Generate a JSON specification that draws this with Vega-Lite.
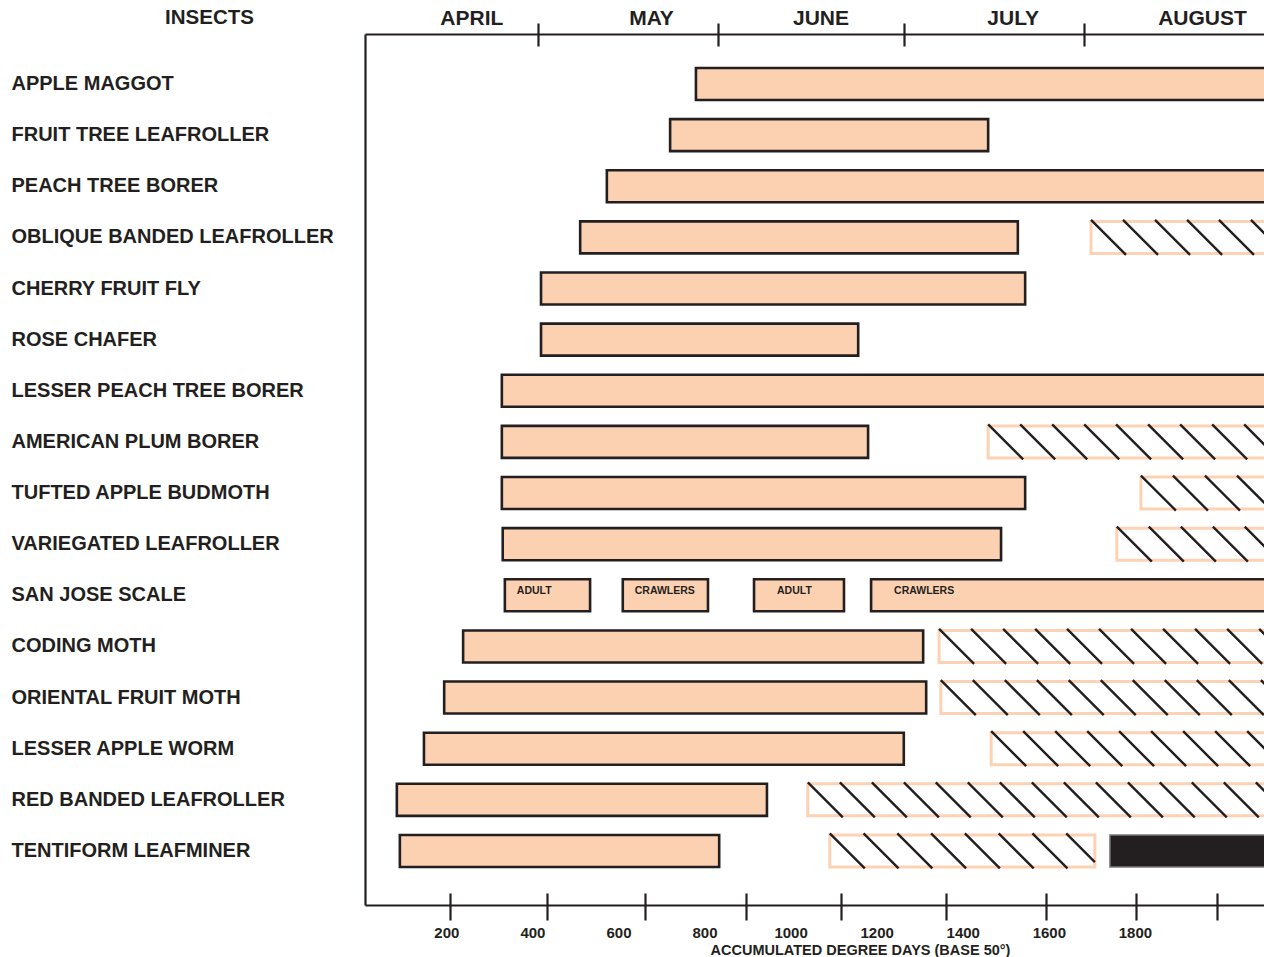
{
  "$schema": "https://vega.github.io/schema/vega-lite/v6.json",
  "autosize": {"type": "none"},
  "padding": {"left": 365, "top": 34, "right": 0, "bottom": 52},
  "width": 899,
  "height": 871,
  "background": "white",
  "config": {
    "view": {"stroke": null},
    "axis": {
      "grid": false,
      "labelFont": "Liberation Sans",
      "titleFont": "Liberation Sans",
      "labelColor": "#231f20",
      "titleColor": "#231f20",
      "domainColor": "#231f20",
      "tickColor": "#231f20",
      "domainWidth": 2.2,
      "tickWidth": 2.2
    }
  },
  "data": {
    "values": [
      {"insect": "APPLE MAGGOT", "start": 780, "end": 2200, "stage": "solid"},
      {"insect": "FRUIT TREE LEAFROLLER", "start": 720, "end": 1459, "stage": "solid"},
      {"insect": "PEACH TREE BORER", "start": 573, "end": 2200, "stage": "solid"},
      {"insect": "OBLIQUE BANDED LEAFROLLER", "start": 511, "end": 1528, "stage": "solid"},
      {"insect": "OBLIQUE BANDED LEAFROLLER", "start": 1698, "end": 2200, "stage": "hatched"},
      {"insect": "CHERRY FRUIT FLY", "start": 420, "end": 1545, "stage": "solid"},
      {"insect": "ROSE CHAFER", "start": 420, "end": 1157, "stage": "solid"},
      {"insect": "LESSER PEACH TREE BORER", "start": 329, "end": 2200, "stage": "solid"},
      {"insect": "AMERICAN PLUM BORER", "start": 329, "end": 1180, "stage": "solid"},
      {"insect": "AMERICAN PLUM BORER", "start": 1459, "end": 2200, "stage": "hatched"},
      {"insect": "TUFTED APPLE BUDMOTH", "start": 329, "end": 1545, "stage": "solid"},
      {"insect": "TUFTED APPLE BUDMOTH", "start": 1814, "end": 2200, "stage": "hatched"},
      {"insect": "VARIEGATED LEAFROLLER", "start": 331, "end": 1489, "stage": "solid"},
      {"insect": "VARIEGATED LEAFROLLER", "start": 1758, "end": 2200, "stage": "hatched"},
      {"insect": "SAN JOSE SCALE", "start": 336, "end": 534, "stage": "solid", "label": "ADULT"},
      {"insect": "SAN JOSE SCALE", "start": 610, "end": 808, "stage": "solid", "label": "CRAWLERS"},
      {"insect": "SAN JOSE SCALE", "start": 915, "end": 1124, "stage": "solid", "label": "ADULT"},
      {"insect": "SAN JOSE SCALE", "start": 1187, "end": 2200, "stage": "solid", "label": "CRAWLERS"},
      {"insect": "CODING MOTH", "start": 239, "end": 1308, "stage": "solid"},
      {"insect": "CODING MOTH", "start": 1345, "end": 2200, "stage": "hatched"},
      {"insect": "ORIENTAL FRUIT MOTH", "start": 195, "end": 1315, "stage": "solid"},
      {"insect": "ORIENTAL FRUIT MOTH", "start": 1349, "end": 2200, "stage": "hatched"},
      {"insect": "LESSER APPLE WORM", "start": 148, "end": 1263, "stage": "solid"},
      {"insect": "LESSER APPLE WORM", "start": 1466, "end": 2200, "stage": "hatched"},
      {"insect": "RED BANDED LEAFROLLER", "start": 85, "end": 945, "stage": "solid"},
      {"insect": "RED BANDED LEAFROLLER", "start": 1040, "end": 2200, "stage": "hatched"},
      {"insect": "TENTIFORM LEAFMINER", "start": 92, "end": 834, "stage": "solid"},
      {"insect": "TENTIFORM LEAFMINER", "start": 1091, "end": 1707, "stage": "hatched"},
      {"insect": "TENTIFORM LEAFMINER", "start": 1742, "end": 2200, "stage": "black"}
    ]
  },
  "resolve": {"axis": {"x": "independent", "y": "independent"}},
  "layer": [
    {
      "transform": [{"filter": "datum.stage === 'solid'"}],
      "mark": {"type": "bar", "fill": "#fcd1b2", "stroke": "#231f20", "strokeWidth": 2.6, "clip": true},
      "encoding": {
        "x": {
          "field": "start", "type": "quantitative",
          "scale": {"domain": [11, 2100], "nice": false, "zero": false},
          "axis": {
            "orient": "bottom",
            "values": [200, 400, 600, 800, 1000, 1200, 1400, 1600, 1800],
            "format": "d",
            "ticks": false, "tickSize": 0,
            "domain": true,
            "labelFontSize": 15, "labelFontWeight": "bold",
            "labelBaseline": "alphabetic", "labelPadding": 32,
            "labelOverlap": false, "labelFlush": false,
            "title": "ACCUMULATED DEGREE DAYS (BASE 50°)",
            "titleFontSize": 14.5, "titleFontWeight": "bold",
            "titleX": 495, "titleY": 49, "titleAlign": "center", "titleBaseline": "alphabetic"
          }
        },
        "x2": {"field": "end"},
        "y": {
          "field": "insect", "type": "nominal",
          "scale": {
            "domain": ["APPLE MAGGOT", "FRUIT TREE LEAFROLLER", "PEACH TREE BORER", "OBLIQUE BANDED LEAFROLLER", "CHERRY FRUIT FLY", "ROSE CHAFER", "LESSER PEACH TREE BORER", "AMERICAN PLUM BORER", "TUFTED APPLE BUDMOTH", "VARIEGATED LEAFROLLER", "SAN JOSE SCALE", "CODING MOTH", "ORIENTAL FRUIT MOTH", "LESSER APPLE WORM", "RED BANDED LEAFROLLER", "TENTIFORM LEAFMINER"],
            "paddingInner": 0.374, "paddingOuter": 0.7045, "align": 0.472
          },
          "axis": {
            "orient": "left",
            "ticks": false, "tickSize": 0,
            "domain": true,
            "labelAlign": "left", "labelBaseline": "middle", "labelPadding": 354,
            "labelFontSize": 20, "labelFontWeight": "bold", "labelLimit": 400,
            "title": "INSECTS", "titleAngle": 0, "titleX": -156, "titleY": -17,
            "titleAlign": "center", "titleBaseline": "middle",
            "titleFontSize": 20.5, "titleFontWeight": "bold"
          }
        }
      }
    },
    {
      "transform": [{"filter": "datum.stage === 'hatched'"}],
      "mark": {"type": "bar", "fill": "white", "stroke": "#fdd2b4", "strokeWidth": 3, "clip": true},
      "encoding": {
        "x": {
          "field": "start", "type": "quantitative",
          "scale": {"domain": [11, 2100], "nice": false, "zero": false},
          "axis": {
            "orient": "bottom",
            "values": [208.5, 434.6, 662.3, 895.6, 1116.4, 1360.4, 1592.7, 1801.9, 1991.5],
            "domain": false, "labels": false, "title": null,
            "ticks": true, "tickSize": 27, "offset": -12
          }
        },
        "x2": {"field": "end"},
        "y": {"field": "insect", "type": "nominal", "axis": null}
      }
    },
    {
      "transform": [{"filter": "datum.stage === 'hatched'"}],
      "mark": {"type": "point", "filled": false, "stroke": "#231f20", "strokeWidth": 2.4, "opacity": 1, "size": 1225, "clip": true},
      "encoding": {
        "x": {
          "field": "start", "type": "quantitative",
          "scale": {"domain": [11, 2100], "nice": false, "zero": false},
          "axis": {
            "orient": "top",
            "values": [258, 675.6, 1069.5, 1516, 1956],
            "labelExpr": "datum.value < 500 ? 'APRIL' : datum.value < 900 ? 'MAY' : datum.value < 1300 ? 'JUNE' : datum.value < 1700 ? 'JULY' : 'AUGUST'",
            "ticks": false, "tickSize": 0, "domain": true,
            "labelFontSize": 21, "labelFontWeight": "bold",
            "labelBaseline": "alphabetic", "labelPadding": 9.5,
            "labelOverlap": false, "labelFlush": false,
            "title": null
          }
        },
        "y": {"field": "insect", "type": "nominal", "axis": null},
        "shape": {
          "condition": {"test": "datum.insect === 'TENTIFORM LEAFMINER'", "value": "M0,-1L2,1M1.93,-1L3.93,1M3.86,-1L5.86,1M5.79,-1L7.79,1M7.72,-1L9.72,1M9.65,-1L11.65,1M11.58,-1L13.58,1M13.51,-1L15.15,0.64"},
          "value": "M0,-1L2,1M1.83,-1L3.83,1M3.66,-1L5.66,1M5.49,-1L7.49,1M7.31,-1L9.31,1M9.14,-1L11.14,1M10.97,-1L12.97,1M12.8,-1L14.8,1M14.63,-1L16.63,1M16.46,-1L18.46,1M18.29,-1L20.29,1M20.11,-1L22.11,1M21.94,-1L23.94,1M23.77,-1L25.77,1M25.6,-1L27.6,1M27.43,-1L29.43,1M29.26,-1L31.26,1"
        }
      }
    },
    {
      "transform": [{"filter": "datum.stage === 'black'"}],
      "mark": {"type": "bar", "fill": "#231f20", "stroke": "#7a7a7c", "strokeWidth": 1.5, "clip": true},
      "encoding": {
        "x": {
          "field": "start", "type": "quantitative",
          "scale": {"domain": [11, 2100], "nice": false, "zero": false},
          "axis": {
            "orient": "top",
            "values": [413.7, 832, 1264.2, 1682.4],
            "domain": false, "labels": false, "title": null,
            "ticks": true, "tickSize": 23, "offset": -12
          }
        },
        "x2": {"field": "end"},
        "y": {"field": "insect", "type": "nominal", "axis": null}
      }
    },
    {
      "transform": [{"filter": "datum.label != null"}],
      "mark": {"type": "text", "font": "Liberation Sans", "fontWeight": "bold", "fontSize": 10.5, "color": "#231f20", "align": "left", "baseline": "middle", "dx": {"expr": "datum.start > 800 ? 23 : 12"}, "dy": -4},
      "encoding": {
        "x": {"field": "start", "type": "quantitative", "scale": {"domain": [11, 2100], "nice": false, "zero": false}, "axis": null},
        "y": {"field": "insect", "type": "nominal", "axis": null},
        "text": {"field": "label"}
      }
    }
  ]
}
